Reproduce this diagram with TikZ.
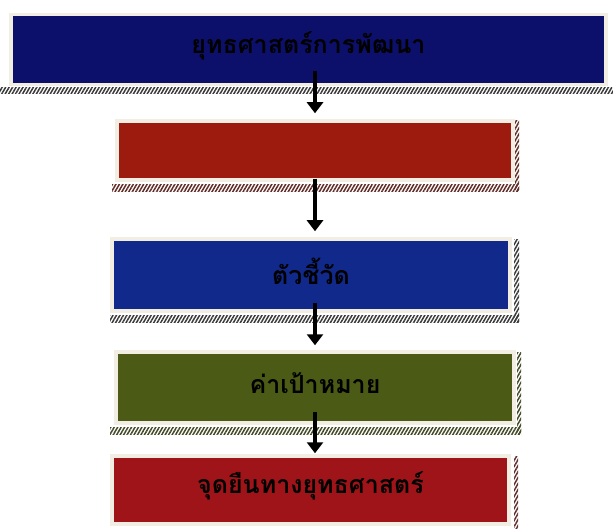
\documentclass[tikz,border=0pt]{standalone}
\usepackage{fontspec}
\newfontfamily\thaifont[Script=Thai]{Loma}
\usetikzlibrary{arrows.meta,patterns.meta}
\definecolor{navy}{HTML}{0C106A}
\definecolor{rblue}{HTML}{12298C}
\definecolor{rred}{HTML}{9C1A0E}
\definecolor{rgreen}{HTML}{4B5A14}
\definecolor{rred2}{HTML}{9E1418}
\definecolor{rim}{HTML}{F2EEE4}
\definecolor{hatchc}{HTML}{3A3A3A}
\newcommand{\uptext}[1]{\raisebox{4pt}[\height][\depth]{#1}}
\tikzset{
  box/.style={draw=rim, line width=3.5pt, inner sep=0pt, font=\thaifont\bfseries\fontsize{25}{28}\selectfont, text=black, anchor=center},
  hatch/.style={pattern={Lines[angle=60,distance=3pt,line width=1.5pt]}, pattern color=#1},
  arr/.style={line width=4.5pt, -{Triangle[width=16pt,length=11pt]}, black}
}
\begin{document}
\begin{tikzpicture}[x=1pt,y=-1pt]
\useasboundingbox (0,0) rectangle (613,529);
\fill[white] (0,0) rectangle (613,529);
% shadows
\fill[hatch=hatchc] (0,88) rectangle (613,94);
\fill[hatch=rred!40!hatchc] (112,185) rectangle (519,192);
\fill[hatch=rred!40!hatchc] (515,121) rectangle (519,192);
\fill[hatch=hatchc] (110,316) rectangle (519,322);
\fill[hatch=hatchc] (514,240) rectangle (519,322);
\fill[hatch=rgreen!50!hatchc] (110,427) rectangle (521,434);
\fill[hatch=rgreen!50!hatchc] (517,352) rectangle (521,434);
\fill[hatch=rred2!40!hatchc] (514,456) rectangle (518,529);
% boxes
\node[box, fill=navy, minimum width=595pt, minimum height=70pt] (b1) at (308.5,49.5) {\uptext{ยุทธศาสตร์การพัฒนา}};
\node[box, fill=rred, minimum width=396pt, minimum height=59pt] (b2) at (315,150.5) {};
\node[box, fill=rblue, minimum width=398pt, minimum height=72pt] (b3) at (311,275) {\uptext{ตัวชี้วัด}};
\node[box, fill=rgreen, minimum width=398pt, minimum height=71pt] (b4) at (315,387.5) {\uptext{ค่าเป้าหมาย}};
\node[box, fill=rred2, minimum width=397pt, minimum height=68pt] (b5) at (310.5,490) {\uptext{จุดยืนทางยุทธศาสตร์}};
% arrows
\coordinate (ax) at (315,0);
\draw[arr, shorten <=-15pt, shorten >=6pt] (b1.south -| ax) -- (b2.north -| ax);
\draw[arr, shorten <=-3pt, shorten >=6pt] (b2.south -| ax) -- (b3.north -| ax);
\draw[arr, shorten <=-10pt, shorten >=5pt] (b3.south -| ax) -- (b4.north -| ax);
\draw[arr, shorten <=-13pt, shorten >=1pt] (b4.south -| ax) -- (b5.north -| ax);
\end{tikzpicture}
\end{document}
